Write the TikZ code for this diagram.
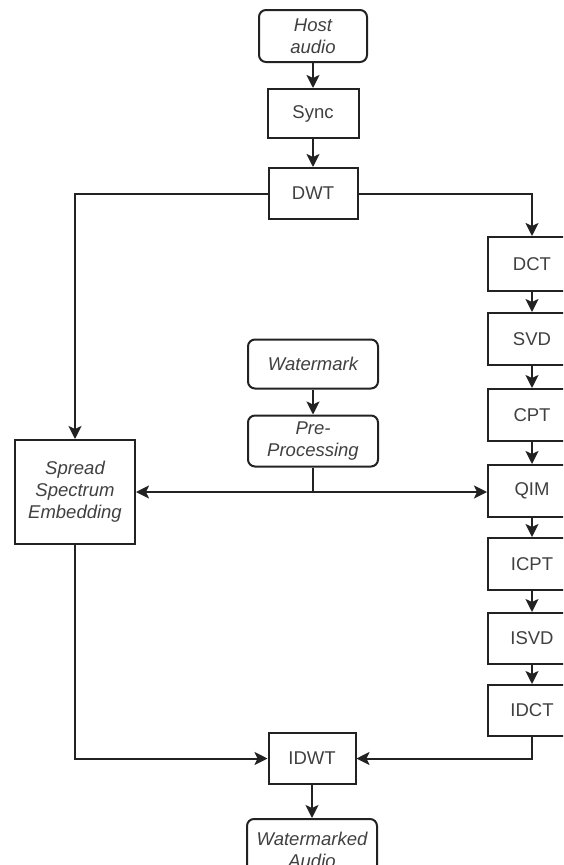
\documentclass[tikz,border=0pt]{standalone}
\usepackage{fontspec}
\setmainfont{Liberation Sans}
\usetikzlibrary{arrows.meta}
\definecolor{ink}{HTML}{222222}
\definecolor{txt}{HTML}{404040}
\tikzset{
  blk/.style={draw=ink, line width=2pt, fill=white, inner sep=0pt, align=center, text=txt, font=\fontsize{18.5}{22}\selectfont},
  rblk/.style={blk, rounded corners=7pt},
  con/.style={draw=ink, line width=2pt},
  arr/.style={con, -{Stealth[length=13pt,width=13pt,inset=3pt]}}
}
\begin{document}
\begin{tikzpicture}[x=1pt,y=-1pt]
\useasboundingbox (0,0) rectangle (563,865);
\clip (0,0) rectangle (563,865);
\node[rblk, minimum width=108pt, minimum height=52pt] (host) at (313,36) {\itshape Host\\\itshape audio};
\node[blk, minimum width=91pt, minimum height=49pt] (sync) at (313,113.5) {Sync};
\node[blk, minimum width=89pt, minimum height=51pt] (dwt) at (313,193.5) {DWT};
\node[blk, minimum width=88pt, minimum height=54pt] (dct) at (532,264) {DCT};
\node[blk, minimum width=88pt, minimum height=52pt] (svd) at (532,339) {SVD};
\node[blk, minimum width=88pt, minimum height=52pt] (cpt) at (532,415) {CPT};
\node[blk, minimum width=88pt, minimum height=52pt] (qim) at (532,491) {QIM};
\node[blk, minimum width=88pt, minimum height=52pt] (icpt) at (532,564) {ICPT};
\node[blk, minimum width=88pt, minimum height=51pt] (isvd) at (532,638.5) {ISVD};
\node[blk, minimum width=88pt, minimum height=51pt] (idct) at (532,710.5) {IDCT};
\node[rblk, minimum width=130pt, minimum height=49pt] (wm) at (313,364) {\itshape Watermark};
\node[rblk, minimum width=130pt, minimum height=51pt] (pre) at (313,441) {\itshape Pre-\\\itshape Processing};
\node[blk, minimum width=120pt, minimum height=104pt] (ss) at (75,492) {\itshape Spread\\\itshape Spectrum\\\itshape Embedding};
\node[blk, minimum width=87pt, minimum height=51pt] (idwt) at (312,758.5) {IDWT};
\node[rblk, minimum width=130pt, minimum height=62pt] (out) at (312,850) {\itshape Watermarked\\\itshape Audio};
\coordinate (split) at (pre.south |- ss.east);
\draw[arr] (host) -- (sync);
\draw[arr] (sync) -- (dwt);
\draw[arr] (dwt.west) -| (ss.north);
\draw[arr] (dwt.east) -| (dct.north);
\draw[arr] (dct) -- (svd);
\draw[arr] (svd) -- (cpt);
\draw[arr] (cpt) -- (qim);
\draw[arr] (qim) -- (icpt);
\draw[arr] (icpt) -- (isvd);
\draw[arr] (isvd) -- (idct);
\draw[arr] (wm) -- (pre);
\draw[con] (pre.south) -- (split);
\draw[arr] (split) -- (ss.east);
\draw[arr] (split) -- (split -| qim.west);
\draw[arr] (ss.south) |- (idwt.west);
\draw[arr] (idct.south) |- (idwt.east);
\draw[arr] (idwt) -- (out);
\end{tikzpicture}
\end{document}
